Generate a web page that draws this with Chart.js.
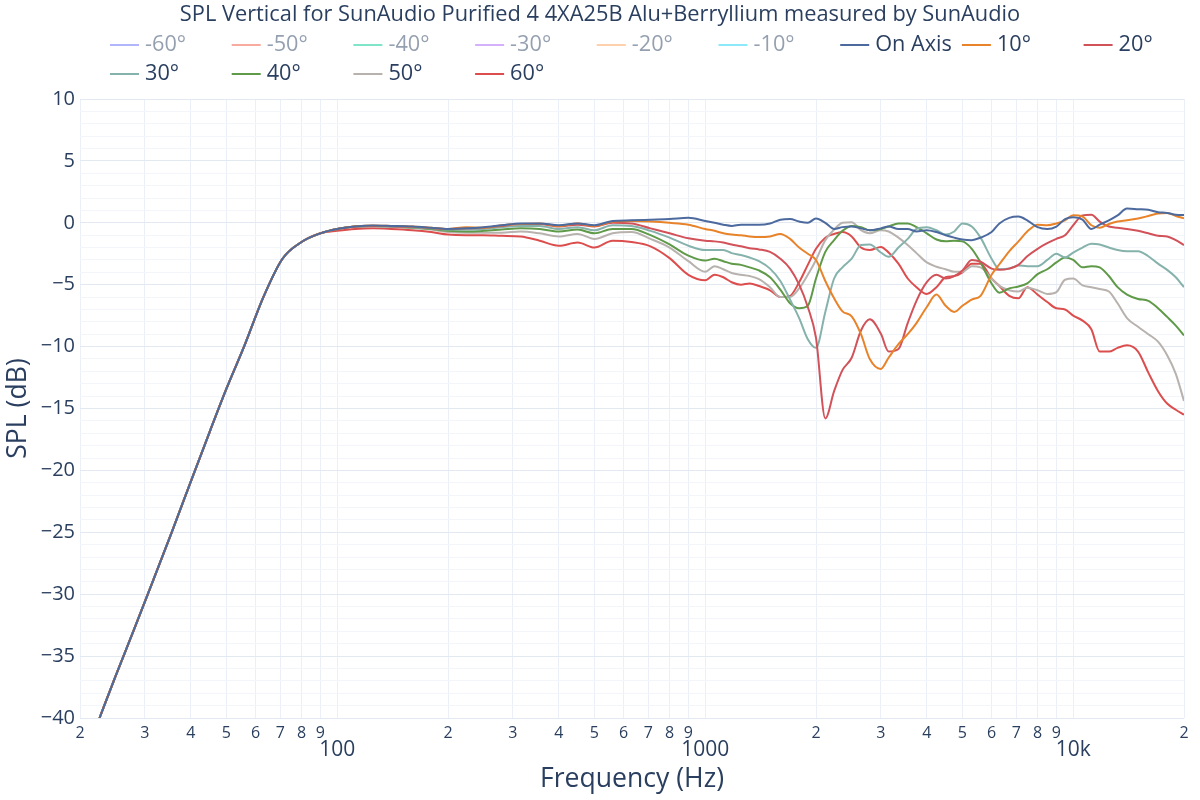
<!DOCTYPE html>
<html>
<head>
<meta charset="utf-8">
<script src="https://cdn.jsdelivr.net/npm/chart.js@4.4.1/dist/chart.umd.min.js"></script>
<style>
html,body{margin:0;padding:0;background:#ffffff;}
#wrap{width:1200px;height:800px;}
</style>
</head>
<body>
<div id="wrap"><canvas id="c" width="1200" height="800"></canvas></div>
<script>
const chartTitle = 'SPL Vertical for SunAudio Purified 4 4XA25B Alu+Berryllium measured by SunAudio';
const xAxisTitle = 'Frequency (Hz)';
const yAxisTitle = 'SPL (dB)';

const seriesNames = ['-60°','-50°','-40°','-30°','-20°','-10°','On Axis','10°','20°','30°','40°','50°','60°'];
const seriesColors = ['#636efa','#EF553B','#00cc96','#ab63fa','#FFA15A','#19d3f3','#4C6A9E','#E8832A','#D2525A','#86B2AC','#5F9A48','#B8B2AE','#DC4E4E'];
const legendOnly = [true,true,true,true,true,true,false,false,false,false,false,false,false];

const xTickValues = [20,30,40,50,60,70,80,90,100,200,300,400,500,600,700,800,900,1000,2000,3000,4000,5000,6000,7000,8000,9000,10000,20000];
const xTickLabels = ['2','3','4','5','6','7','8','9','100','2','3','4','5','6','7','8','9','1000','2','3','4','5','6','7','8','9','10k','2'];
const xMajorTicks = [100,1000,10000];

const freqHz = [22.6,25,28,31.5,35.5,40,45,50,56,63,71,80,90,
  100,112,125,140,160,180,200,224,250,280,315,355,400,450,500,560,630,710,800,900,
  1000,1060,1120,1180,1250,1320,1400,1500,1600,1700,1800,1900,
  2000,2120,2240,2360,2500,2650,2800,
  3000,3150,3350,3550,3750,4000,4250,4500,4750,5000,5300,5600,
  6000,6300,6700,7100,7500,8000,8500,9000,9500,
  10000,10600,11200,11800,12500,13200,14000,15000,16000,17000,18000,19000,20000];

// hidden (legend-only) series carry no visible data in the reference
const splNeg60 = [];
const splNeg50 = [];
const splNeg40 = [];
const splNeg30 = [];
const splNeg20 = [];
const splNeg10 = [];

const splOnAxis = [-40,-36.6,-32.9,-29.0,-25.0,-20.9,-16.9,-13.4,-9.9,-6.0,-2.9,-1.55,-0.85,
  -0.5,-0.3,-0.22,-0.25,-0.3,-0.4,-0.5,-0.45,-0.35,-0.2,-0.05,-0.05,-0.2,-0.05,-0.2,0.15,0.2,0.25,0.3,0.4,
  0.15,0.0,-0.15,-0.25,-0.15,-0.15,-0.15,-0.05,0.25,0.3,0.1,0.0,
  0.35,0.0,-0.5,-0.35,-0.3,-0.45,-0.6,
  -0.45,-0.3,-0.5,-0.5,-0.7,-0.6,-0.75,-1.0,-1.2,-1.35,-1.4,-1.2,
  -0.75,-0.05,0.4,0.5,0.2,-0.35,-0.5,-0.3,0.3,
  0.45,0.25,-0.5,-0.15,0.2,0.6,1.15,1.1,1.05,0.85,0.8,0.65,0.63];

const spl10 = [-40,-36.6,-32.9,-29.0,-25.0,-20.9,-16.9,-13.4,-9.9,-6.0,-2.9,-1.55,-0.85,
  -0.5,-0.3,-0.22,-0.25,-0.3,-0.4,-0.5,-0.35,-0.4,-0.2,-0.1,-0.05,-0.25,-0.05,-0.25,0.1,0.15,0.1,0.0,-0.15,
  -0.5,-0.65,-0.85,-0.95,-1.0,-1.1,-1.15,-1.1,-0.9,-1.3,-2.0,-2.5,
  -3.0,-4.7,-6.1,-7.15,-7.55,-9.0,-11.0,
  -11.8,-10.9,-9.8,-9.0,-8.1,-6.8,-5.8,-6.7,-7.2,-6.7,-6.2,-5.9,
  -4.2,-3.35,-2.3,-1.5,-0.7,-0.15,-0.2,-0.05,0.2,
  0.6,0.5,-0.2,-0.4,-0.1,0.1,0.2,0.35,0.55,0.75,0.8,0.55,0.36];

const spl20 = [-40,-36.6,-32.9,-29.0,-25.0,-20.9,-16.9,-13.4,-9.9,-6.0,-2.9,-1.55,-0.85,
  -0.5,-0.3,-0.25,-0.28,-0.32,-0.42,-0.5,-0.45,-0.4,-0.25,-0.1,-0.1,-0.3,-0.15,-0.3,0.0,-0.05,-0.45,-0.85,-1.25,
  -1.45,-1.5,-1.6,-1.75,-1.9,-2.05,-2.15,-2.35,-2.9,-3.7,-5.0,-6.8,
  -9.3,-15.8,-13.6,-11.9,-10.9,-8.7,-7.8,
  -8.95,-10.4,-10.2,-8.1,-6.3,-4.8,-4.2,-4.5,-4.3,-3.85,-3.0,-3.15,
  -3.7,-3.8,-3.7,-3.4,-2.7,-2.1,-1.65,-1.3,-1.0,
  -0.2,0.6,0.65,0.1,-0.3,-0.4,-0.5,-0.65,-0.85,-1.05,-1.1,-1.4,-1.8];

const spl30 = [-40,-36.6,-32.9,-29.0,-25.0,-20.9,-16.9,-13.4,-9.9,-6.0,-2.9,-1.55,-0.85,
  -0.5,-0.3,-0.25,-0.3,-0.35,-0.45,-0.55,-0.55,-0.5,-0.35,-0.25,-0.25,-0.5,-0.35,-0.6,-0.2,-0.25,-0.65,-1.2,-1.85,
  -2.2,-2.2,-2.2,-2.45,-2.6,-2.8,-3.1,-3.7,-4.7,-6.2,-7.7,-9.4,
  -10.1,-7.2,-4.5,-3.6,-2.9,-1.8,-1.75,
  -2.4,-2.75,-2.0,-1.3,-0.5,-0.35,-0.6,-0.95,-0.7,-0.05,-0.3,-1.2,
  -2.9,-3.75,-3.7,-3.45,-3.5,-3.5,-3.0,-2.5,-2.8,
  -2.4,-2.0,-1.7,-1.75,-2.0,-2.2,-2.3,-2.3,-2.7,-3.3,-3.8,-4.4,-5.2];

const spl40 = [-40,-36.6,-32.9,-29.0,-25.0,-20.9,-16.9,-13.4,-9.9,-6.0,-2.9,-1.55,-0.85,
  -0.5,-0.3,-0.25,-0.3,-0.38,-0.5,-0.65,-0.7,-0.65,-0.55,-0.45,-0.5,-0.7,-0.55,-0.85,-0.5,-0.5,-1.0,-1.75,-2.65,
  -3.05,-2.9,-3.1,-3.3,-3.4,-3.6,-3.85,-4.4,-5.4,-6.5,-6.9,-6.7,
  -4.5,-2.35,-1.4,-0.65,-0.25,-0.35,-0.6,
  -0.5,-0.3,-0.05,-0.05,-0.35,-0.85,-1.35,-1.5,-1.45,-1.5,-2.1,-3.2,
  -4.9,-5.65,-5.3,-5.15,-4.9,-4.15,-3.75,-3.2,-2.8,
  -3.0,-3.6,-3.5,-3.6,-4.3,-5.2,-5.8,-6.15,-6.3,-6.9,-7.6,-8.3,-9.1];

const spl50 = [-40,-36.6,-32.9,-29.0,-25.0,-20.9,-16.9,-13.4,-9.9,-6.0,-2.9,-1.55,-0.85,
  -0.5,-0.3,-0.27,-0.32,-0.42,-0.55,-0.75,-0.8,-0.8,-0.8,-0.7,-0.85,-1.1,-0.9,-1.3,-0.85,-0.75,-1.3,-2.0,-3.1,
  -3.95,-3.5,-3.75,-4.05,-4.2,-4.3,-4.55,-5.2,-6.0,-6.0,-5.3,-4.2,
  -3.0,-1.4,-0.55,0.0,0.05,-0.6,-0.85,
  -0.6,-0.7,-1.2,-1.8,-2.45,-3.2,-3.55,-3.75,-3.95,-3.95,-3.5,-3.6,
  -4.5,-5.1,-5.45,-5.55,-5.25,-5.45,-5.75,-5.6,-4.6,
  -4.5,-5.05,-5.2,-5.35,-5.55,-6.5,-7.7,-8.4,-9.0,-9.6,-10.7,-12.2,-14.4];

const spl60 = [-40,-36.6,-32.9,-29.0,-25.0,-20.9,-16.9,-13.4,-9.9,-6.0,-2.9,-1.55,-0.85,
  -0.65,-0.5,-0.45,-0.5,-0.6,-0.75,-0.95,-1.0,-1.0,-1.05,-1.1,-1.45,-1.85,-1.6,-2.0,-1.45,-1.55,-1.9,-2.85,-4.2,
  -4.65,-4.2,-4.4,-4.8,-5.0,-4.9,-5.1,-5.45,-6.0,-5.9,-4.8,-3.4,
  -2.1,-1.2,-0.9,-0.75,-1.1,-2.0,-2.2,
  -1.95,-2.4,-3.3,-4.5,-5.2,-5.75,-5.2,-4.4,-4.3,-4.0,-3.3,-3.3,
  -4.5,-5.1,-5.9,-6.1,-5.2,-5.8,-6.4,-6.9,-7.0,
  -7.5,-7.9,-8.6,-10.4,-10.4,-10.1,-9.9,-10.4,-12.1,-13.6,-14.6,-15.1,-15.5];

const seriesValues = [splNeg60,splNeg50,splNeg40,splNeg30,splNeg20,splNeg10,splOnAxis,spl10,spl20,spl30,spl40,spl50,spl60];

const FONT = "'Open Sans', 'DejaVu Sans', sans-serif";
const TEXT = '#2a3f5f';

const yTickValues = [];
for (let v = -40; v <= 10; v++) yTickValues.push(v);

function fmtY(v){ return v < 0 ? '\u2212' + Math.abs(v) : String(v); }

const datasets = seriesNames.map((name, i) => ({
  label: name,
  data: seriesValues[i].map((y, k) => ({x: freqHz[k], y: y})),
  borderColor: seriesColors[i],
  backgroundColor: seriesColors[i],
  borderWidth: 2,
  pointRadius: 0,
  fill: false,
  hidden: legendOnly[i],
  cubicInterpolationMode: 'monotone'
}));

const headerPlugin = {
  id: 'plotlyHeader',
  afterDraw(chart) {
    const ctx = chart.ctx;
    ctx.save();
    ctx.fillStyle = TEXT;
    ctx.font = '21.8px ' + FONT;
    ctx.textAlign = 'center';
    ctx.textBaseline = 'middle';
    ctx.fillText(chartTitle, 600, 15);
    ctx.textAlign = 'left';
    chart.data.datasets.forEach((ds, i) => {
      const row = i < 9 ? 0 : 1;
      const col = i < 9 ? i : i - 9;
      const x = 110 + col * 121.7;
      const y = row === 0 ? 45 : 74;
      ctx.globalAlpha = legendOnly[i] ? 0.5 : 1;
      ctx.strokeStyle = ds.borderColor;
      ctx.lineWidth = 2;
      ctx.beginPath();
      ctx.moveTo(x, y);
      ctx.lineTo(x + 29, y);
      ctx.stroke();
      ctx.fillStyle = TEXT;
      ctx.font = '21.7px ' + FONT;
      ctx.fillText(ds.label, x + 35, y);
    });
    ctx.restore();
  }
};

new Chart(document.getElementById('c'), {
  type: 'line',
  data: { datasets },
  plugins: [headerPlugin],
  options: {
    responsive: false,
    animation: false,
    devicePixelRatio: 1,
    layout: { padding: { top: 99, right: 16, bottom: 0, left: 0 } },
    plugins: {
      legend: { display: false },
      title: { display: false },
      tooltip: { enabled: false }
    },
    scales: {
      x: {
        type: 'logarithmic',
        min: 20,
        max: 20000,
        afterBuildTicks: (s) => { s.ticks = xTickValues.map(v => ({ value: v })); },
        afterFit: (s) => { s.height = 82; },
        grid: { color: '#EBF0F8', drawTicks: false, lineWidth: 1 },
        border: { display: false },
        ticks: {
          autoSkip: false, maxRotation: 0, minRotation: 0, padding: 5.4, color: TEXT,
          font: (c) => (c.tick && xMajorTicks.includes(c.tick.value))
            ? { family: FONT, size: 21, lineHeight: 2.533 }
            : { family: FONT, size: 16, lineHeight: 1.2 },
          callback: (v, i) => xTickLabels[i]
        },
        title: { display: true, text: xAxisTitle, color: TEXT, font: { family: FONT, size: 26.6 }, padding: { top: 0, bottom: 5 } }
      },
      y: {
        type: 'linear',
        min: -40,
        max: 10,
        afterBuildTicks: (s) => { s.ticks = yTickValues.map(v => ({ value: v })); },
        afterFit: (s) => { s.width = 80; },
        grid: {
          color: (c) => (c.tick && c.tick.value % 5 === 0) ? '#E3E9F1' : '#F2F5F9',
          drawTicks: false, lineWidth: 1
        },
        border: { display: false },
        ticks: {
          autoSkip: false, padding: 5, color: TEXT,
          font: { family: FONT, size: 20 },
          callback: (v) => (v % 5 === 0 ? fmtY(v) : '')
        },
        title: { display: true, text: yAxisTitle, color: TEXT, font: { family: FONT, size: 26.6 }, padding: { top: 2, bottom: 0 } }
      }
    }
  }
});
</script>
</body>
</html>
